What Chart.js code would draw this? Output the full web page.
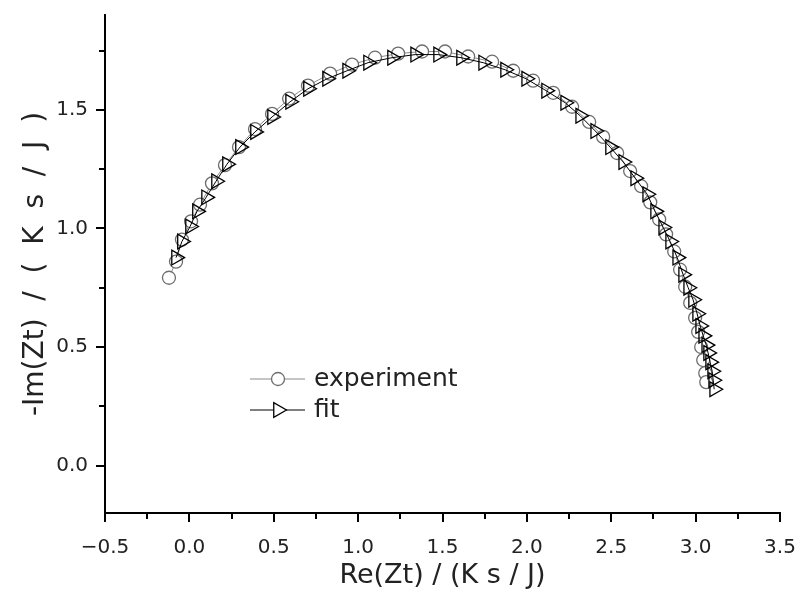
<!DOCTYPE html>
<html>
<head>
<meta charset="utf-8">
<script src="https://cdn.jsdelivr.net/npm/chart.js@4.4.1/dist/chart.umd.min.js"></script>
<style>
  html, body { margin: 0; padding: 0; background: #fff; }
  #wrap { width: 798px; height: 589px; }
</style>
</head>
<body>
<div id="wrap"><canvas id="c" width="798" height="589"></canvas></div>
<script>
// experiment (circles)
const expRe = [-0.121, -0.079, -0.044, 0.010, 0.063, 0.134, 0.211, 0.294, 0.389, 0.490, 0.591, 0.703, 0.834, 0.964, 1.100, 1.237, 1.379, 1.515, 1.652, 1.794, 1.919, 2.037, 2.156, 2.268, 2.369, 2.452, 2.535, 2.612, 2.677, 2.731, 2.784, 2.825, 2.873, 2.908, 2.938, 2.968, 2.997, 3.015, 3.033, 3.045, 3.057, 3.063];
const expIm = [0.792, 0.860, 0.953, 1.030, 1.100, 1.190, 1.267, 1.343, 1.419, 1.483, 1.547, 1.602, 1.653, 1.691, 1.720, 1.737, 1.746, 1.746, 1.725, 1.703, 1.665, 1.623, 1.572, 1.513, 1.449, 1.386, 1.318, 1.242, 1.178, 1.110, 1.038, 0.975, 0.903, 0.826, 0.754, 0.686, 0.623, 0.564, 0.500, 0.445, 0.390, 0.352];

// fit (triangles)
const fitRe = [-0.079, -0.044, 0.004, 0.045, 0.099, 0.158, 0.223, 0.300, 0.389, 0.490, 0.597, 0.703, 0.816, 0.935, 1.059, 1.201, 1.338, 1.474, 1.610, 1.741, 1.871, 1.996, 2.114, 2.227, 2.316, 2.405, 2.493, 2.571, 2.642, 2.713, 2.760, 2.808, 2.849, 2.891, 2.926, 2.956, 2.985, 3.009, 3.027, 3.045, 3.063, 3.074, 3.086, 3.098, 3.104, 3.110];
const fitIm = [0.877, 0.945, 1.008, 1.072, 1.131, 1.199, 1.271, 1.343, 1.407, 1.470, 1.534, 1.589, 1.631, 1.665, 1.699, 1.720, 1.733, 1.733, 1.720, 1.699, 1.669, 1.631, 1.581, 1.530, 1.475, 1.411, 1.343, 1.280, 1.212, 1.144, 1.072, 1.004, 0.945, 0.877, 0.805, 0.750, 0.699, 0.640, 0.589, 0.547, 0.508, 0.475, 0.436, 0.398, 0.360, 0.322];

const seriesNames = ['experiment', 'fit'];
const xTitle = 'Re(Zt) / (K s / J)';
const yTitle = '-Im(Zt)  /  (  K  s  /  J  )';

const FONT = 'DejaVu Sans';
const TXT = '#222';

function isMajor(v) {
  return Math.abs(v / 0.5 - Math.round(v / 0.5)) < 1e-6;
}
function fmt(v) {
  return isMajor(v) ? v.toFixed(1).replace('-', '\u2212') : '';
}

const toPts = (xs, ys) => xs.map((x, i) => ({ x: x, y: ys[i] }));

// draws major/minor tick marks and the little legend
const extras = {
  id: 'extras',
  afterDraw(chart) {
    const ctx = chart.ctx;
    const xs = chart.scales.x, ys = chart.scales.y;
    ctx.save();
    ctx.strokeStyle = '#000';
    ctx.lineWidth = 2;
    ctx.beginPath();
    xs.ticks.forEach(t => {
      const p = Math.round(xs.getPixelForValue(t.value));
      ctx.moveTo(p, xs.top);
      ctx.lineTo(p, xs.top + (isMajor(t.value) ? 9 : 6));
    });
    ys.ticks.forEach(t => {
      const p = Math.round(ys.getPixelForValue(t.value));
      ctx.moveTo(ys.right, p);
      ctx.lineTo(ys.right - (isMajor(t.value) ? 9 : 6), p);
    });
    ctx.stroke();

    // legend
    const ca = chart.chartArea;
    const lx = ca.left + 145, rows = [ca.top + 364, ca.top + 395];
    chart.data.datasets.slice().sort((a, b) => b.order - a.order).forEach((ds, i) => {
      const y = rows[i];
      ctx.strokeStyle = ds.borderColor;
      ctx.lineWidth = 1;
      ctx.beginPath();
      ctx.moveTo(lx, y);
      ctx.lineTo(lx + 55, y);
      ctx.stroke();
      ctx.fillStyle = '#fff';
      ctx.strokeStyle = ds.pointBorderColor;
      ctx.lineWidth = 1.3;
      Chart.helpers.drawPoint(ctx, {
        pointStyle: ds.pointStyle,
        rotation: ds.pointRotation || 0,
        radius: ds.pointRadius,
        borderWidth: 1.3
      }, lx + 28, y);
      ctx.fillStyle = TXT;
      ctx.font = '25px "' + FONT + '"';
      ctx.textBaseline = 'middle';
      ctx.textAlign = 'left';
      ctx.fillText(ds.label, lx + 64, y);
    });
    ctx.restore();
  }
};

new Chart(document.getElementById('c'), {
  type: 'scatter',
  data: {
    datasets: [
      {
        label: seriesNames[0],
        data: toPts(expRe, expIm),
        showLine: true,
        borderColor: '#8a8a8a',
        borderWidth: 1,
        pointStyle: 'circle',
        pointRadius: 6.5,
        pointBorderColor: '#6e6e6e',
        pointBackgroundColor: '#fff',
        pointBorderWidth: 1.3,
        order: 1
      },
      {
        label: seriesNames[1],
        data: toPts(fitRe, fitIm),
        showLine: true,
        borderColor: '#000',
        borderWidth: 1,
        pointStyle: 'triangle',
        pointRotation: 90,
        pointRadius: 8.5,
        pointBorderColor: '#000',
        pointBackgroundColor: 'rgba(255,255,255,0)',
        pointBorderWidth: 1.3,
        order: 0
      }
    ]
  },
  options: {
    responsive: false,
    animation: false,
    events: [],
    layout: { padding: { left: 0, right: 18, top: 15, bottom: 0 } },
    plugins: { legend: { display: false }, tooltip: { enabled: false } },
    scales: {
      x: {
        type: 'linear',
        min: -0.5, max: 3.5,
        afterFit: s => { s.height = 76; s.paddingLeft = 0; s.paddingRight = 0; },
        border: { display: true, color: '#000', width: 2 },
        grid: { display: false },
        ticks: {
          stepSize: 0.25, autoSkip: false, maxRotation: 0, includeBounds: false,
          padding: 15, color: TXT, font: { family: FONT, size: 20 },
          callback: fmt
        },
        title: { display: true, text: xTitle, color: TXT, font: { family: FONT, size: 27, lineHeight: 1.0 }, padding: { top: 0, bottom: 0 } }
      },
      y: {
        type: 'linear',
        min: -0.2, max: 1.9,
        afterFit: s => { s.width = 105; s.paddingTop = 0; s.paddingBottom = 0; },
        border: { display: true, color: '#000', width: 2 },
        grid: { display: false },
        ticks: {
          stepSize: 0.25, autoSkip: false, includeBounds: false,
          padding: 9, color: TXT, font: { family: FONT, size: 20 },
          callback: fmt
        },
        title: { display: true, text: yTitle, color: TXT, font: { family: FONT, size: 28, lineHeight: 1.1 }, padding: { top: 20, bottom: 0 } }
      }
    }
  },
  plugins: [extras]
});
</script>
</body>
</html>
